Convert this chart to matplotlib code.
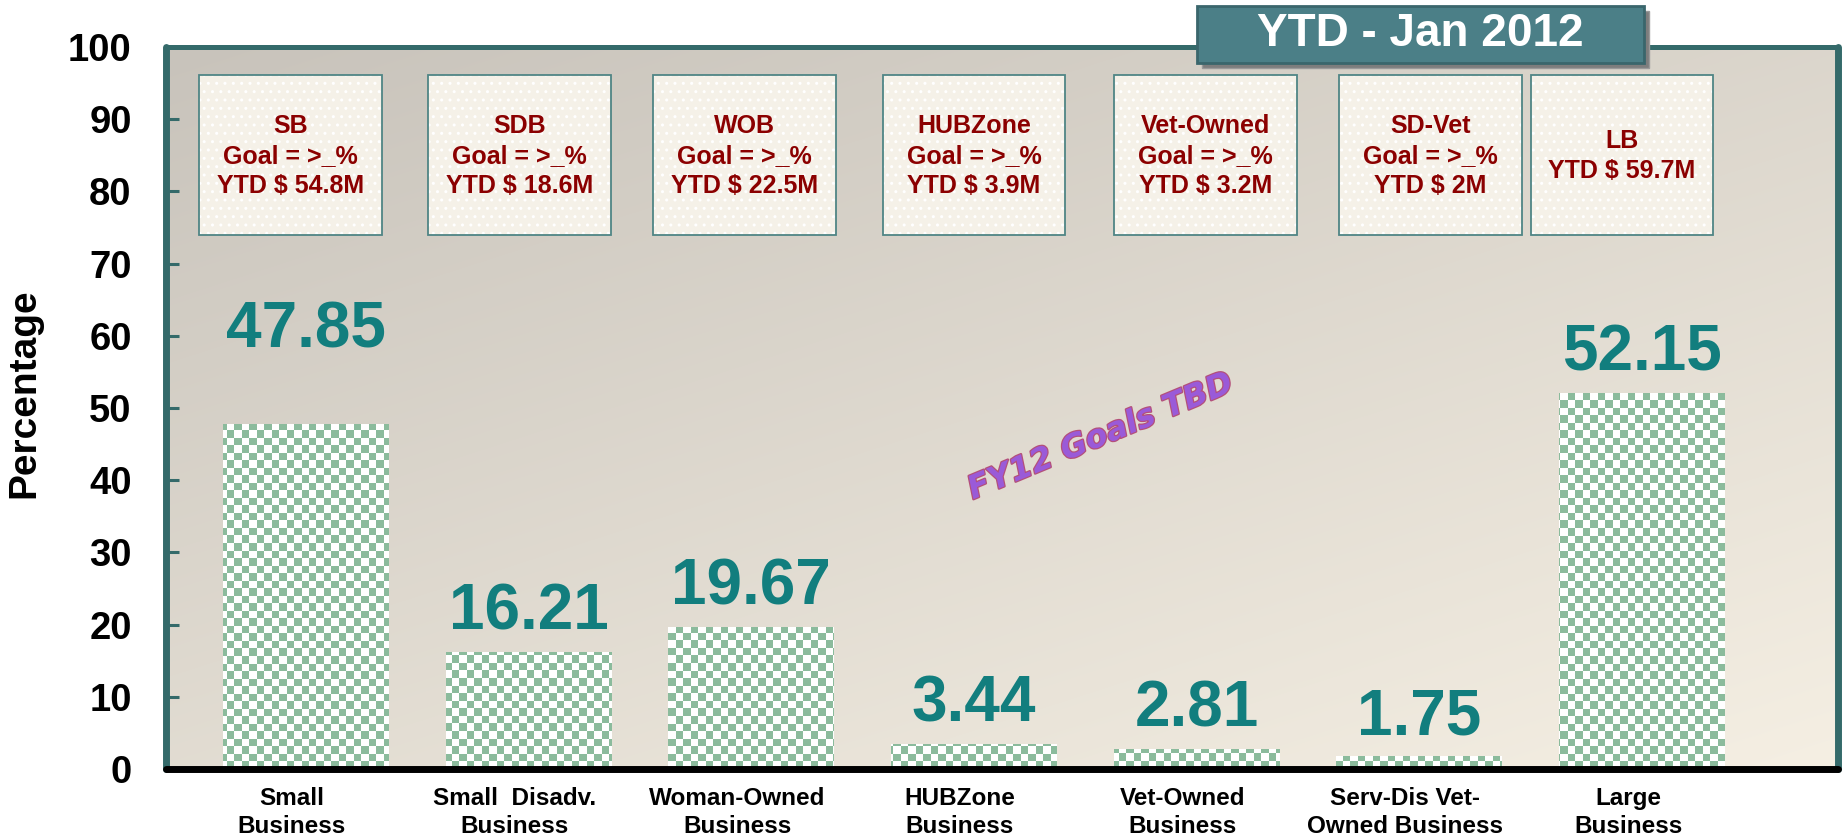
import numpy as np
import matplotlib
matplotlib.use("Agg")
import matplotlib.pyplot as plt
from matplotlib.patches import Rectangle
from matplotlib.transforms import ScaledTranslation
import matplotlib.patheffects as pe

categories = ["Small\nBusiness", "Small  Disadv.\nBusiness", "Woman-Owned\nBusiness",
              "HUBZone\nBusiness", "Vet-Owned\nBusiness", "Serv-Dis Vet-\nOwned Business",
              "Large\nBusiness"]
values = [47.85, 16.21, 19.67, 3.44, 2.81, 1.75, 52.15]
box_texts = ["SB\nGoal = >_%\nYTD $ 54.8M",
             "SDB\nGoal = >_%\nYTD $ 18.6M",
             "WOB\nGoal = >_%\nYTD $ 22.5M",
             "HUBZone\nGoal = >_%\nYTD $ 3.9M",
             "Vet-Owned\nGoal = >_%\nYTD $ 3.2M",
             "SD-Vet\nGoal = >_%\nYTD $ 2M",
             "LB\nYTD $ 59.7M"]
title = "YTD - Jan 2012"
watermark = "FY12 Goals TBD"
yticks = [0, 10, 20, 30, 40, 50, 60, 70, 80, 90, 100]

# layout
box_centers = [-0.07, 0.96, 1.97, 3.0, 4.04, 5.05, 5.91]
label_pad = [55, 16, 16, 16, 16, 16, 16]   # points above bar top
teal = "#346a6a"
font = "Liberation Sans"

fig = plt.figure(figsize=(18.43, 8.39), dpi=100)
ax = fig.add_axes([0.0903, 0.0834, 0.9069, 0.8605])
ax.set_xlim(-0.626, 6.879)
ax.set_ylim(0, 100)

# gradient background: grey top-left -> cream bottom-right
gx, gy = np.meshgrid(np.linspace(0, 1, 300), np.linspace(0, 1, 150))
t = np.clip((gx * 0.6 + gy * 0.8) / 1.4, 0, 1)[..., None]
c0 = np.array([0xc8, 0xc3, 0xbb]) / 255
c1 = np.array([0xf5, 0xef, 0xe3]) / 255
ax.imshow(c0 * (1 - t) + c1 * t, extent=(0, 1, 0, 1), transform=ax.transAxes,
          aspect="auto", origin="upper", zorder=0, interpolation="bilinear")

# checkerboard bars
nx, ny = 223, 96
ii, jj = np.meshgrid(np.arange(nx), np.arange(ny))
chk = ((ii + jj) % 2)[..., None]
green = np.array([0x8b, 0xbb, 0x9c]) / 255
white = np.array([1.0, 1.0, 1.0])
chk_img = green * chk + white * (1 - chk)

x = np.arange(len(values))
bars = ax.bar(x, values, width=0.745, color="white", linewidth=0, zorder=1)
for b in bars:
    im = ax.imshow(chk_img, extent=(0, 1, 0, 1), transform=ax.transAxes,
                   aspect="auto", interpolation="nearest", zorder=2)
    im.set_clip_path(b)

for xi, v, pad in zip(x, values, label_pad):
    ax.annotate(f"{v:.2f}", (xi, v), xytext=(0, pad), textcoords="offset points",
                ha="center", va="baseline", fontsize=46, fontweight="bold",
                color="#127e7e", family=font, zorder=4)

# info boxes
for cx, txt in zip(box_centers, box_texts):
    ax.add_patch(Rectangle((cx - 0.41, 74.0), 0.82, 22.1, facecolor="#f5f1e8",
                           edgecolor="white", hatch="..", linewidth=0, zorder=3))
    ax.add_patch(Rectangle((cx - 0.41, 74.0), 0.82, 22.1, facecolor="none",
                           edgecolor="#4f8585", linewidth=1.3, zorder=3))
    ax.text(cx, 84.9, txt, ha="center", va="center", fontsize=18, fontweight="bold",
            color="#8b0000", family=font, linespacing=1.3, zorder=4)

ax.text(3.57, 46, watermark, rotation=22.6, ha="center", va="center", fontsize=23,
        fontweight="bold", style="italic", color="#9a5ad8", family="DejaVu Sans",
        path_effects=[pe.withStroke(linewidth=1.8, foreground="#b4507a")], zorder=3)

# axes styling
for s in ["left", "top", "right"]:
    ax.spines[s].set_color(teal)
ax.spines["left"].set_linewidth(5)
ax.spines["right"].set_linewidth(5)
ax.spines["top"].set_linewidth(3.6)
ax.spines["bottom"].set_color("black")
ax.spines["bottom"].set_linewidth(5)
for s in ax.spines.values():
    s.set_zorder(5)
    s.set_capstyle("round")

ax.set_yticks(yticks)
ax.tick_params(axis="y", direction="in", length=9, width=2.2, color=teal, pad=25,
               labelsize=27.5)
ax.tick_params(axis="x", length=0, pad=13, labelsize=17.5)
ax.set_xticks(x)
ax.set_xticklabels(categories, linespacing=1.3)
for lab in ax.get_yticklabels() + ax.get_xticklabels():
    lab.set_fontweight("bold")
    lab.set_family(font)
shift = ScaledTranslation(-14 / 100, 0, fig.dpi_scale_trans)
for lab in ax.get_xticklabels():
    lab.set_transform(lab.get_transform() + shift)

ax.set_ylabel("Percentage", fontsize=28, fontweight="bold", family=font)
ax.yaxis.set_label_coords(-0.074, 0.52)

# title banner
bx0, by0, bw, bh = 1197 / 1843, 1 - 63 / 839, 447 / 1843, 57 / 839
fig.add_artist(Rectangle((bx0 + 5 / 1843, by0 - 5 / 839), bw, bh, transform=fig.transFigure,
                         facecolor="#7d7d7d", edgecolor="#9a9a9a", linewidth=1, zorder=6))
fig.add_artist(Rectangle((bx0, by0), bw, bh, transform=fig.transFigure,
                         facecolor="#4b7f87", edgecolor="#3a666c", linewidth=2, zorder=7))
fig.text(bx0 + bw / 2, by0 + bh / 2, title, ha="center", va="center", color="white",
         fontsize=33, fontweight="bold", family=font, zorder=8)

fig.savefig("out.png", dpi=100, facecolor="white")
